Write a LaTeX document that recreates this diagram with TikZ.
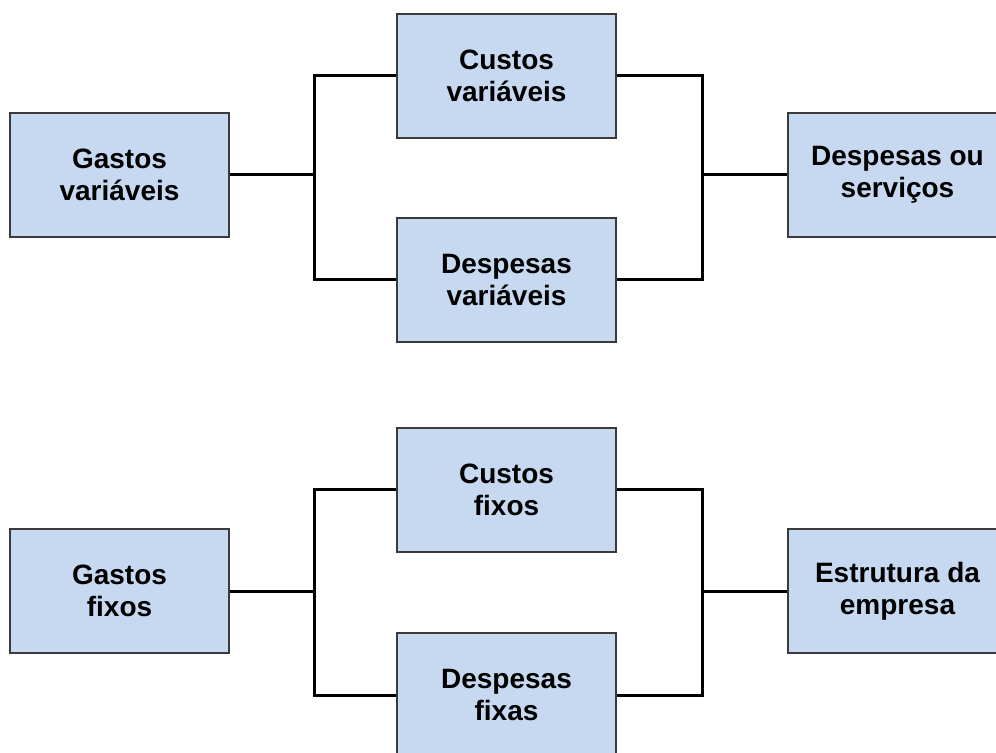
\documentclass[tikz,border=0pt]{standalone}
\usepackage{fontspec}
\setmainfont{Liberation Sans}
\definecolor{azulcaixa}{HTML}{C6D9F0}
\definecolor{bordacaixa}{HTML}{3A3A3A}
\tikzset{
  bloco/.style={draw=bordacaixa, fill=azulcaixa, line width=1pt, inner sep=0pt,
    minimum width=109.5pt, minimum height=62pt, align=center,
    font=\fontsize{14}{16}\selectfont\bfseries},
  linha/.style={line width=1.5pt, black}
}
\begin{document}
\begin{tikzpicture}[x=0.5pt, y=-0.5pt]
		\useasboundingbox (0,0) rectangle (996,753);
		\clip (0,0) rectangle (996,753);
		
		% Gastos variaveis
		\node[bloco] (gv) at (119.5,175) {Gastos\\variáveis};
		\node[bloco] (cv) at (506.5,76) {Custos\\variáveis};
		\node[bloco] (dv) at (506.5,280) {Despesas\\variáveis};
		\node[bloco] (ds) at (897.5,175) {Despesas ou\\serviços};
		\coordinate (jv1) at (314,175);
		\coordinate (jv2) at (702,175);
		
		\draw[linha] (gv.east) -- (jv1);
		\draw[linha] (cv.west) -| (jv1) |- (dv.west);
		\draw[linha] (cv.east) -| (jv2) |- (dv.east);
		\draw[linha] (jv2) -- (ds.west);
		
		% Gastos fixos
		\node[bloco] (gf) at (119.5,591) {Gastos\\fixos};
		\node[bloco] (cf) at (506.5,490) {Custos\\fixos};
		\node[bloco] (df) at (506.5,695) {Despesas\\fixas};
		\node[bloco] (ee) at (897.5,591) {Estrutura da\\empresa};
		\coordinate (jf1) at (314,591);
		\coordinate (jf2) at (702,591);
		
		\draw[linha] (gf.east) -- (jf1);
		\draw[linha] (cf.west) -| (jf1) |- (df.west);
		\draw[linha] (cf.east) -| (jf2) |- (df.east);
		\draw[linha] (jf2) -- (ee.west);
	\end{tikzpicture}
\end{document}
